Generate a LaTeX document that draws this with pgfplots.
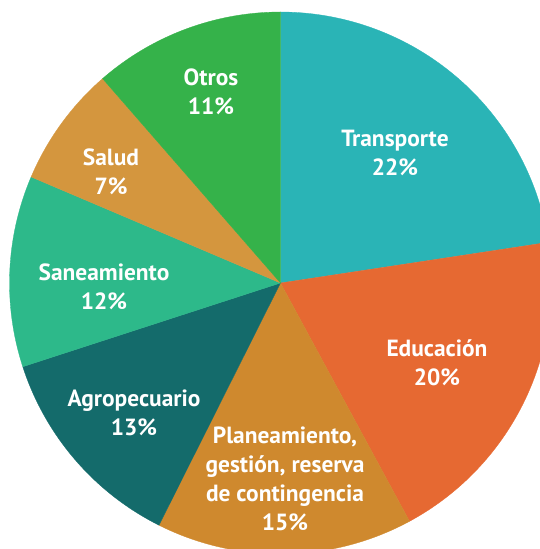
\documentclass[border=0pt]{standalone}
\usepackage{pgfplots}
\usepackage{pgfplotstable}
\pgfplotsset{compat=1.18}
\usepackage{fontspec}
\setmainfont{PT Sans}
\definecolor{slice0}{RGB}{42,180,182}
\definecolor{slice1}{RGB}{230,105,50}
\definecolor{slice2}{RGB}{207,137,46}
\definecolor{slice3}{RGB}{20,107,107}
\definecolor{slice4}{RGB}{45,185,138}
\definecolor{slice5}{RGB}{212,150,62}
\definecolor{slice6}{RGB}{53,178,74}
\pgfplotstableread{
name value
Transporte 22.6
Educacion 19.5
Planeamiento 15.3
Agropecuario 12.6
Saneamiento 11.4
Salud 7.2
Otros 11.4
}\piedata
\begin{document}
\begin{tikzpicture}
\useasboundingbox (0,0) rectangle (540bp,549bp);
\begin{axis}[hide axis, scale only axis, width=540bp, height=549bp,
  at={(0,0)}, anchor=south west,
  xmin=-280.5, xmax=259.5, ymin=-266, ymax=283, clip=true]
\def\cum{0}
\pgfplotsforeachungrouped \i in {0,...,6}{%
  \pgfplotstablegetelem{\i}{value}\of\piedata
  \let\v\pgfplotsretval
  \pgfmathsetmacro\a{90-3.6*\cum}%
  \pgfmathsetmacro\b{90-3.6*(\cum+\v)}%
  \edef\temp{\noexpand\addplot[fill=slice\i, draw=slice\i, line width=0.3pt, domain=\b:\a, samples=120] ({271*cos(x)},{271*sin(x)}) -- (axis cs:0,0) -- cycle;}%
  \temp
  \pgfmathsetmacro\cum{\cum+\v}%
  \global\let\cum\cum
}
\tikzset{lab/.style={text=white, font=\fontsize{23.5}{29}\selectfont\bfseries, align=center}}
\node[lab] at (axis cs:114.5,130) {Transporte\\22\%};
\node[lab] at (axis cs:156.5,-80) {Educación\\20\%};
\node[lab] at (axis cs:4.5,-196) {Planeamiento,\\gestión, reserva\\de contingencia\\15\%};
\node[lab] at (axis cs:-146.5,-130) {Agropecuario\\13\%};
\node[lab] at (axis cs:-176.5,-4) {Saneamiento\\12\%};
\node[lab] at (axis cs:-169.5,111) {Salud\\7\%};
\node[lab] at (axis cs:-69.5,191) {Otros\\11\%};
\end{axis}
\end{tikzpicture}
\end{document}
